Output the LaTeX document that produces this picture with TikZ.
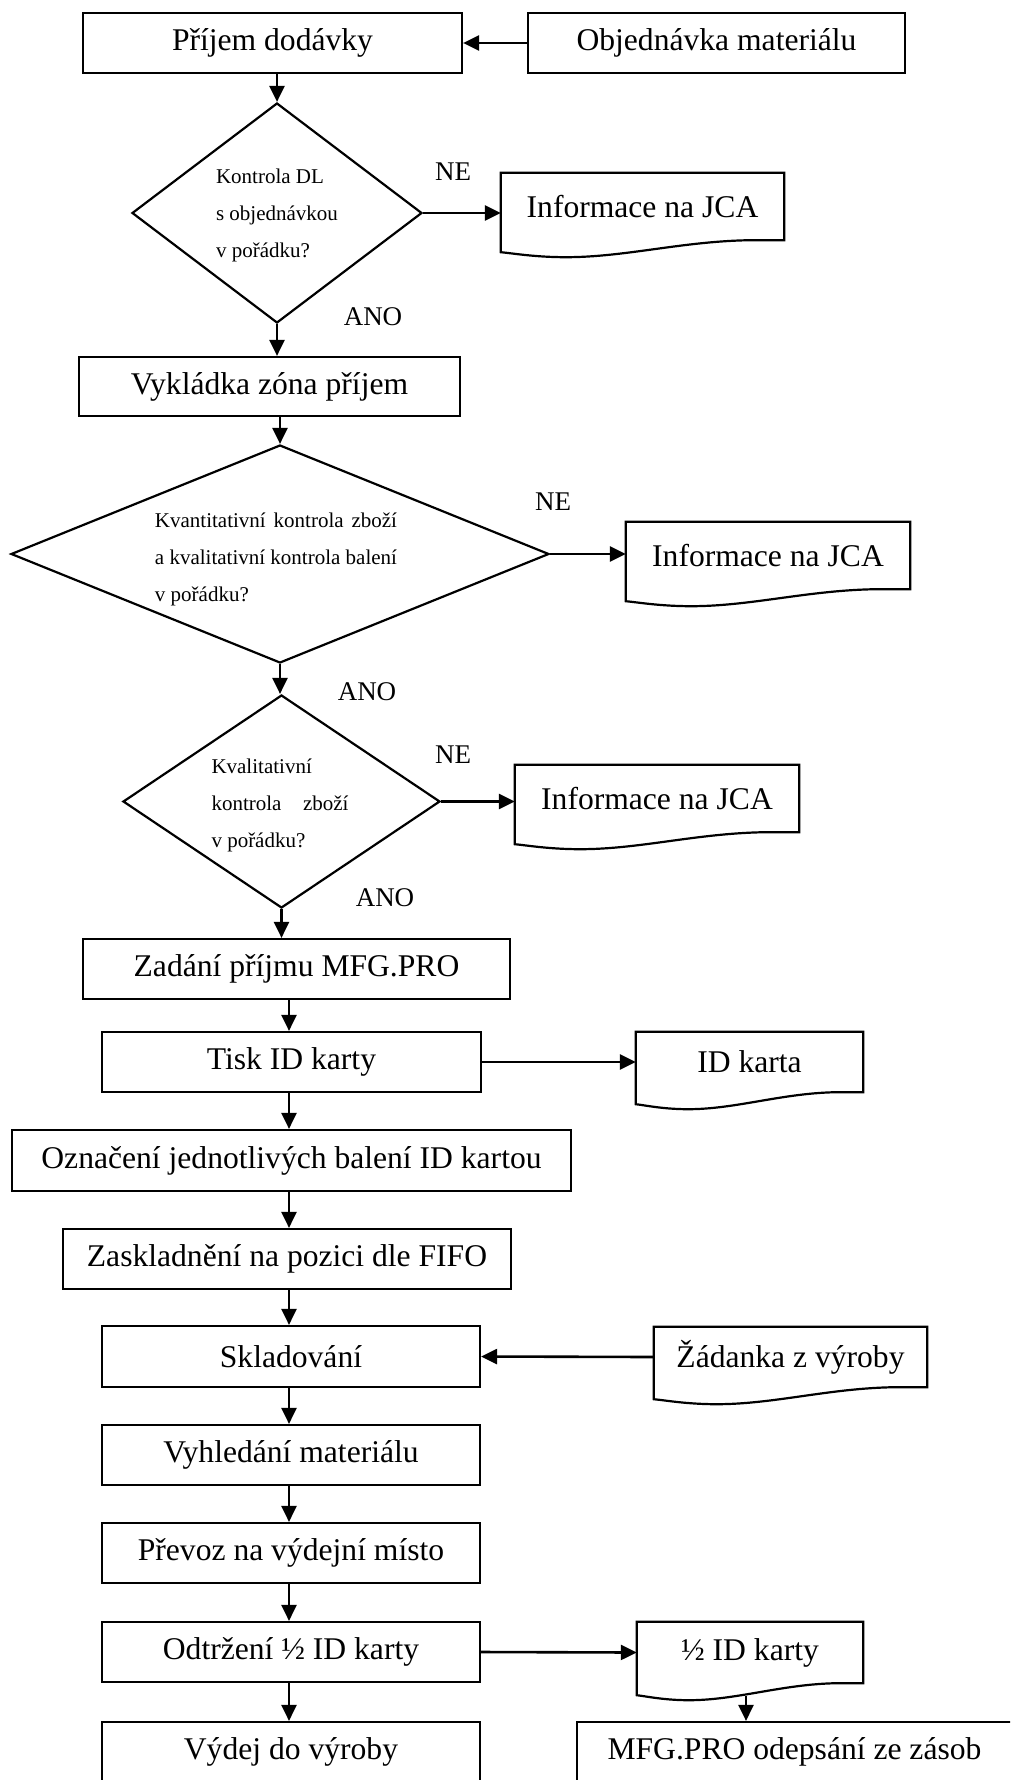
\documentclass[tikz,border=0pt]{standalone}
\usepackage{fontspec}
\setmainfont{Liberation Serif}
\usetikzlibrary{shapes.geometric,arrows.meta,calc}

\newlength\dlen

% outline of a "document" symbol drawn around a named node
\newcommand\docline[1]{%
  \draw[boxline] (#1.north west) -- (#1.north east) -- (#1.south east)
    -- ($(#1.south east)!0.12!(#1.south west)$)
    .. controls ($(#1.south east)!0.36!(#1.south west)+(0,1)$) and ($(#1.south east)!0.56!(#1.south west)+(0,17)$)
    .. ($(#1.south east)!0.77!(#1.south west)+(0,17)$)
    .. controls ($(#1.south east)!0.88!(#1.south west)+(0,17)$) and ($(#1.south east)!0.96!(#1.south west)+(0,13)$)
    .. ($(#1.south west)+(0,12)$) -- cycle;}

\tikzset{
  boxline/.style={line width=2.2pt, line join=miter},
  proc/.style={draw, boxline, rectangle, inner sep=0pt, minimum height=60pt,
    font=\fontsize{31.6}{38}\selectfont},
  dia/.style={draw, boxline, shape=diamond, inner sep=0pt},
  dtext/.style={align=left, inner sep=0pt, font=\fontsize{21}{37}\selectfont},
  doc/.style={draw=none, inner sep=0pt, font=\fontsize{31.6}{38}\selectfont},
  lbl/.style={inner sep=0pt, font=\fontsize{27}{32}\selectfont},
  arr/.style={line width=2.6pt, -{Triangle[length=16pt,width=15pt]}}
}

\begin{document}
\begin{tikzpicture}[x=1pt,y=-1pt]
\useasboundingbox (0,0) rectangle (1010,1780);
\fill[white] (0,0) rectangle (1010,1780);
\clip (0,0) rectangle (1010,1780);

% receiving and first check
\node[proc, minimum width=379pt] (prijem) at (272.5,43) {Příjem dodávky};
\node[proc, minimum width=377pt] (objed) at (716.5,43) {Objednávka materiálu};

\node[dia, minimum width=290pt, minimum height=220pt] (d1) at (277,213) {};
\node[dtext] (d1t) at (277,215) {Kontrola DL\\s objednávkou\\v pořádku?};
\node[doc, minimum width=283pt, minimum height=67pt] (info1) at (642.5,206.5) {Informace na JCA};
\docline{info1}
\node[lbl] (ne1) at (453,172) {NE};
\node[lbl] (ano1) at (373,317) {ANO};

\node[proc, minimum width=381pt, minimum height=59pt] (vykl) at (269.5,386.5) {Vykládka zóna příjem};

% quantity check
\node[dia, minimum width=538pt, minimum height=218pt] (d2) at (280,554) {};
\node[dtext] (d2t) at (276,559) {\settowidth\dlen{a kvalitativní kontrola balení}\makebox[\dlen][s]{Kvantitativní kontrola zboží}\\a kvalitativní kontrola balení\\v pořádku?};
\node[doc, minimum width=284pt, minimum height=67pt] (info2) at (768,555.5) {Informace na JCA};
\docline{info2}
\node[lbl] (ne2) at (553,502) {NE};
\node[lbl] (ano2) at (367,692) {ANO};

% quality check
\node[dia, minimum width=317pt, minimum height=213pt] (d3) at (281.5,801.5) {};
\node[dtext] (d3t) at (280,805) {Kvalitativní\\\makebox[137pt][s]{kontrola zboží}\\v pořádku?};
\node[doc, minimum width=284pt, minimum height=67pt] (info3) at (657,798.5) {Informace na JCA};
\docline{info3}
\node[lbl] (ne3) at (453,755) {NE};
\node[lbl] (ano3) at (385,898) {ANO};

% booking and storing
\node[proc, minimum width=427pt] (zadani) at (296.5,969) {Zadání příjmu MFG.PRO};
\node[proc, minimum width=379pt] (tisk) at (291.5,1062) {Tisk ID karty};
\node[doc, minimum width=227pt, minimum height=60pt] (idk) at (749.5,1062) {ID karta};
\docline{idk}
\node[proc, minimum width=559pt, minimum height=61pt] (ozn) at (291.5,1160.5) {Označení jednotlivých balení ID kartou};
\node[proc, minimum width=448pt] (zask) at (287,1259) {Zaskladnění na pozici dle FIFO};
\node[proc, minimum width=378pt, minimum height=61pt] (sklad) at (291,1356.5) {Skladování};
\node[doc, minimum width=273pt, minimum height=60pt] (zadanka) at (790.5,1357) {Žádanka z výroby};
\docline{zadanka}

% issuing
\node[proc, minimum width=378pt] (vyhl) at (291,1455) {Vyhledání materiálu};
\node[proc, minimum width=378pt] (prev) at (291,1553) {Převoz na výdejní místo};
\node[proc, minimum width=378pt] (odtr) at (291,1652) {Odtržení ½ ID karty};
\node[doc, minimum width=226pt, minimum height=61pt] (half) at (750,1652.5) {½ ID karty};
\docline{half}
\node[proc, minimum width=378pt] (vydej) at (291,1752) {Výdej do výroby};
\node[proc, minimum width=435pt] (mfg) at (794.5,1752) {MFG.PRO odepsání ze zásob};

% connectors
\coordinate (col) at (289,0);
\coordinate (halfbot) at ($(half.south)+(-4,13)$);

\draw[arr] (objed.west) -- (prijem.east);
\draw[arr] (prijem.south -| d1.north) -- (d1.north);
\draw[arr] (d1.east) -- (d1.east -| info1.west);
\draw[arr] (d1.south) -- (d1.south |- vykl.north);
\draw[arr] (vykl.south -| d2.north) -- (d2.north);
\draw[arr] (d2.east) -- (d2.east -| info2.west);
\draw[arr] (d2.south) -- (d2.south |- d3.north);
\draw[arr] (d3.east) -- (d3.east -| info3.west);
\draw[arr] (d3.south) -- (d3.south |- zadani.north);
\draw[arr] (zadani.south -| col) -- (tisk.north -| col);
\draw[arr] (tisk.east) -- (idk.west);
\draw[arr] (tisk.south -| col) -- (ozn.north -| col);
\draw[arr] (ozn.south -| col) -- (zask.north -| col);
\draw[arr] (zask.south -| col) -- (sklad.north -| col);
\draw[arr] (zadanka.west) -- (sklad.east);
\draw[arr] (sklad.south -| col) -- (vyhl.north -| col);
\draw[arr] (vyhl.south -| col) -- (prev.north -| col);
\draw[arr] (prev.south -| col) -- (odtr.north -| col);
\draw[arr] (odtr.east) -- (half.west);
\draw[arr] (odtr.south -| col) -- (vydej.north -| col);
\draw[arr] (halfbot) -- (halfbot |- mfg.north);
\end{tikzpicture}
\end{document}
